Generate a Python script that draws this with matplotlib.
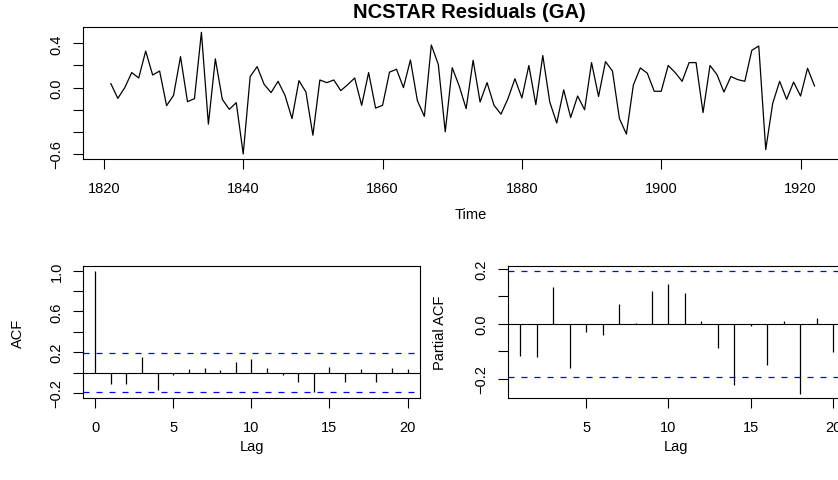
import numpy as np
import matplotlib
matplotlib.use("Agg")
import matplotlib.pyplot as plt

plt.rcParams['font.family'] = ['Liberation Sans', 'DejaVu Sans']

# residuals, one value per year
years = np.arange(1821, 1923)
resid = [0.036, -0.097, 0.0, 0.136, 0.087, 0.33, 0.114, 0.15, -0.163, -0.07,
         0.28, -0.127, -0.1, 0.50, -0.33, 0.26, -0.106, -0.196, -0.136, -0.60,
         0.10, 0.19, 0.03, -0.045, 0.057, -0.07, -0.28, 0.063, -0.04, -0.43,
         0.069, 0.045, 0.069, -0.027, 0.027, 0.087, -0.16, 0.136, -0.185, -0.16,
         0.14, 0.166, 0.0, 0.25, -0.118, -0.26, 0.385, 0.21, -0.40, 0.18,
         0.015, -0.19, 0.247, -0.13, 0.045, -0.16, -0.24, -0.1, 0.08, -0.094,
         0.2, -0.154, 0.29, -0.13, -0.32, -0.02, -0.27, -0.076, -0.2, 0.226,
         -0.08, 0.235, 0.15, -0.28, -0.42, 0.024, 0.178, 0.13, -0.033, -0.033,
         0.2, 0.136, 0.057, 0.226, 0.226, -0.226, 0.2, 0.118, -0.04, 0.1,
         0.072, 0.057, 0.337, 0.376, -0.56, -0.142, 0.057, -0.106, 0.05, -0.076,
         0.175, 0.015]

# autocorrelations
acf_lags = np.arange(0, 21)
acf_vals = [1.0, -0.115, -0.108, 0.157, -0.173, -0.023, 0.03, 0.04, 0.02, 0.105,
            0.13, 0.04, -0.02, -0.095, -0.196, 0.052, -0.092, 0.03, -0.092, 0.046,
            0.03]

pacf_lags = np.arange(1, 21)
pacf_vals = [-0.118, -0.123, 0.133, -0.16, -0.029, -0.041, 0.074, 0.002, 0.118, 0.146,
             0.113, 0.011, -0.087, -0.222, -0.007, -0.149, 0.011, -0.255, 0.022, -0.104]

ci = 0.194

W, H = 838, 481
fig = plt.figure(figsize=(W / 100, H / 100), dpi=100)


def rect(l, r, t, b):
    return [l / W, 1 - b / H, (r - l) / W, (b - t) / H]


def style(ax):
    for s in ax.spines.values():
        s.set_linewidth(0.8)
    ax.tick_params(direction='out', length=7.2, width=0.8, labelsize=10.5, pad=8.5)
    ax.tick_params(axis='y', labelrotation=90, pad=6.5)
    for lab in ax.get_yticklabels():
        lab.set_va('center')


def ylabels(ticks, shown):
    return [(('%.1f' % t).replace('-', '\u2212') if t in shown else '') for t in ticks]


dash = (0, (4.8, 5.6))

# time series panel
ax1 = fig.add_axes(rect(82.7, 857, 28.3, 160))
ax1.plot(years, resid, color='black', lw=0.9)
ax1.set_xlim(1816.96, 1928.1)
ax1.set_ylim(-0.645, 0.545)
ax1.set_xticks([1820, 1840, 1860, 1880, 1900, 1920])
yt = [-0.6, -0.4, -0.2, 0.0, 0.2, 0.4]
ax1.set_yticks(yt)
ax1.set_yticklabels(ylabels(yt, [0.4, 0.0, -0.6]))
style(ax1)

# ACF panel
ax2 = fig.add_axes(rect(82.7, 420, 266.7, 399.3))
ax2.vlines(acf_lags, 0, acf_vals, colors='black', lw=0.9)
ax2.axhline(0, color='black', lw=0.8)
ax2.axhline(ci, color='blue', lw=0.9, ls=dash)
ax2.axhline(-ci, color='blue', lw=0.9, ls=dash)
ax2.set_xlim(-0.8, 20.8)
ax2.set_ylim(-0.253, 1.048)
ax2.set_xticks([0, 5, 10, 15, 20])
yt2 = [-0.2, 0.0, 0.2, 0.4, 0.6, 0.8, 1.0]
ax2.set_yticks(yt2)
ax2.set_yticklabels(ylabels(yt2, [-0.2, 0.2, 0.6, 1.0]))
style(ax2)

# PACF panel
ax3 = fig.add_axes(rect(507.7, 845.7, 266.7, 399.3))
ax3.vlines(pacf_lags, 0, pacf_vals, colors='black', lw=0.9)
ax3.axhline(0, color='black', lw=0.8)
ax3.axhline(ci, color='blue', lw=0.9, ls=dash)
ax3.axhline(-ci, color='blue', lw=0.9, ls=dash)
ax3.set_xlim(0.24, 20.76)
ax3.set_ylim(-0.272, 0.212)
ax3.set_xticks([5, 10, 15, 20])
yt3 = [-0.2, -0.1, 0.0, 0.1, 0.2]
ax3.set_yticks(yt3)
ax3.set_yticklabels(ylabels(yt3, [-0.2, 0.0, 0.2]))
style(ax3)

# titles and axis labels
fig.text(469 / W, 1 - 12.5 / H, 'NCSTAR Residuals (GA)', ha='center', va='center',
         fontsize=14.5, fontweight='bold')
fig.text(471 / W, 1 - 215 / H, 'Time', ha='center', va='center', fontsize=10.5)
fig.text(251.5 / W, 1 - 447 / H, 'Lag', ha='center', va='center', fontsize=10.5)
fig.text(676 / W, 1 - 447 / H, 'Lag', ha='center', va='center', fontsize=10.5)
fig.text(18 / W, 1 - 333 / H, 'ACF', ha='center', va='center', fontsize=10.5, rotation=90)
fig.text(440 / W, 1 - 333 / H, 'Partial ACF', ha='center', va='center', fontsize=10.5, rotation=90)

fig.savefig('out.png', dpi=100)
